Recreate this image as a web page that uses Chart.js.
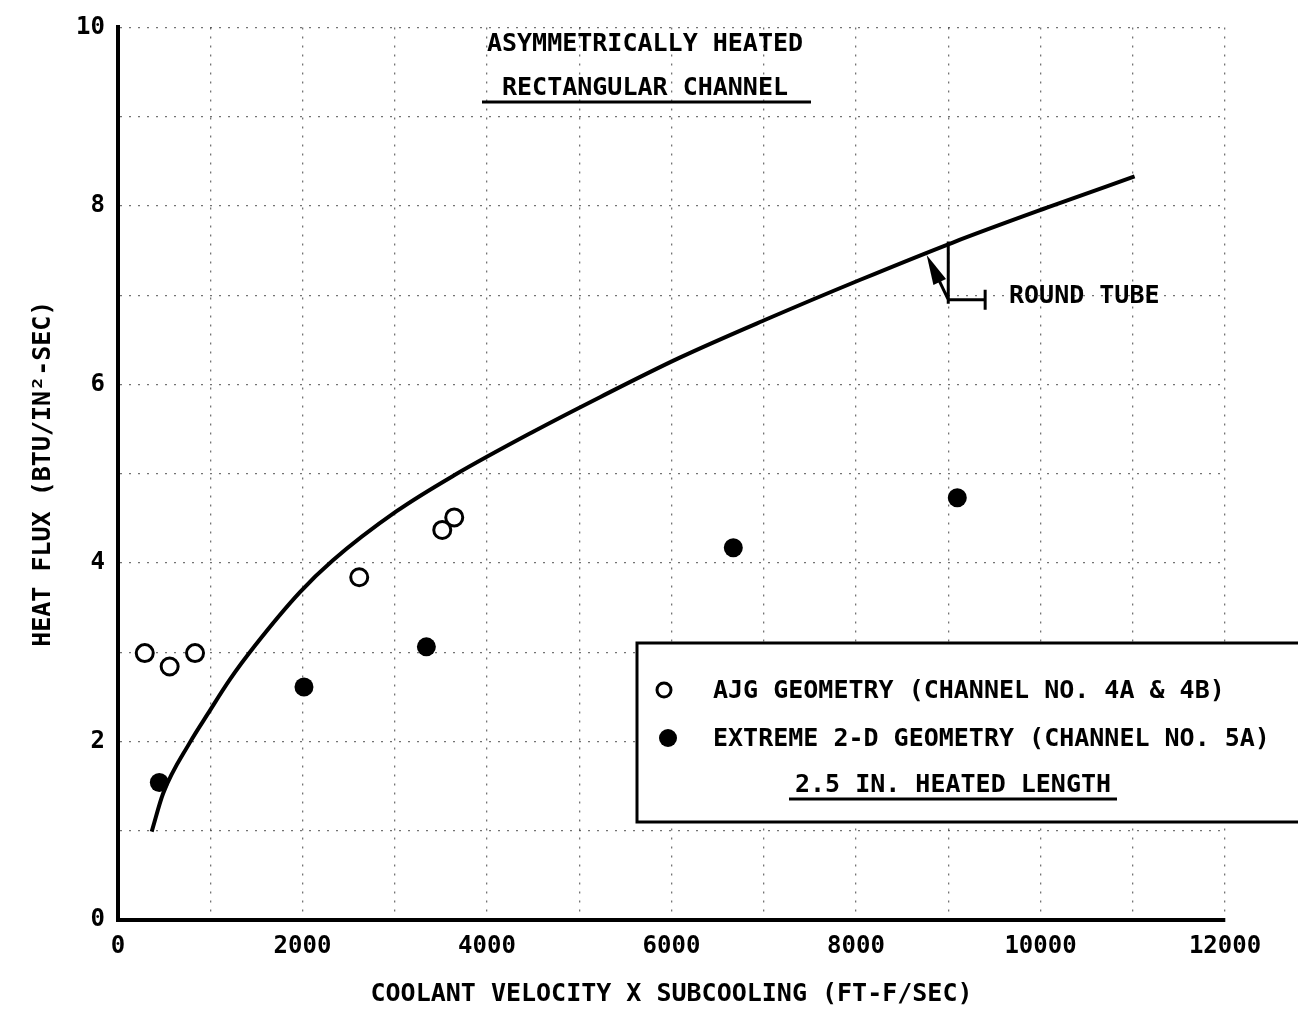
<!DOCTYPE html>
<html>
<head>
<meta charset="utf-8">
<script src="https://cdn.jsdelivr.net/npm/chart.js@4"></script>
<style>
  body { margin: 0; background: #fff; }
  #wrap { width: 1298px; height: 1011px; }
</style>
</head>
<body>
<div id="wrap"><canvas id="chart" width="1298" height="1011"></canvas></div>
<script>
// Round tube curve
const curveX = [365, 490, 780, 980, 1210, 1490, 1970, 2330, 3020, 3640, 4500, 5230, 6090, 7030, 8040, 9050, 10070, 11020];
const curveY = [0.99, 1.42, 1.99, 2.32, 2.69, 3.08, 3.67, 4.03, 4.58, 4.98, 5.47, 5.86, 6.30, 6.73, 7.17, 7.59, 7.98, 8.33];

// AJG geometry (open circles)
const ajgX = [290, 560, 835, 2615, 3515, 3645];
const ajgY = [2.99, 2.84, 2.99, 3.84, 4.37, 4.51];

// Extreme 2-D geometry (filled circles)
const extX = [448, 2016, 3343, 6670, 9098];
const extY = [1.54, 2.61, 3.06, 4.17, 4.73];

const xTicks = [0, 2000, 4000, 6000, 8000, 10000, 12000];
const yTicks = [0, 2, 4, 6, 8, 10];

const FONT = '"DejaVu Sans Mono", monospace';
const toPts = (xs, ys) => xs.map((x, i) => ({ x: x, y: ys[i] }));

// Text, legend box and the "round tube" pointer
const extrasPlugin = {
    id: 'extras',
    afterDatasetsDraw(chart) {
        const ctx = chart.ctx;
        const xs = chart.scales.x, ys = chart.scales.y;
        ctx.save();
        ctx.setLineDash([]);
        ctx.fillStyle = '#000';
        ctx.strokeStyle = '#000';
        ctx.font = 'bold 25px ' + FONT;
        ctx.textBaseline = 'middle';

        // heading
        ctx.textAlign = 'center';
        ctx.fillText('ASYMMETRICALLY HEATED', 645, 44);
        ctx.fillText('RECTANGULAR CHANNEL', 645, 88);
        ctx.lineWidth = 3;
        ctx.beginPath(); ctx.moveTo(482, 102); ctx.lineTo(811, 102); ctx.stroke();

        // legend box
        ctx.fillStyle = '#fff';
        ctx.fillRect(637, 643, 670, 179);
        ctx.lineWidth = 3;
        ctx.beginPath();
        ctx.moveTo(1300, 643); ctx.lineTo(637, 643); ctx.lineTo(637, 822); ctx.lineTo(1300, 822);
        ctx.stroke();
        ctx.fillStyle = '#000';
        ctx.lineWidth = 3;
        ctx.beginPath(); ctx.arc(664, 690, 7, 0, Math.PI * 2); ctx.stroke();
        ctx.beginPath(); ctx.arc(668, 738, 9, 0, Math.PI * 2); ctx.fill();
        ctx.textAlign = 'left';
        ctx.fillText('AJG GEOMETRY (CHANNEL NO. 4A & 4B)', 713, 691);
        ctx.fillText('EXTREME 2-D GEOMETRY (CHANNEL NO. 5A)', 713, 739);
        ctx.textAlign = 'center';
        ctx.fillText('2.5 IN. HEATED LENGTH', 953, 785);
        ctx.beginPath(); ctx.moveTo(789, 799); ctx.lineTo(1117, 799); ctx.stroke();

        // round tube pointer
        const tipX = xs.getPixelForValue(8766), tipY = ys.getPixelForValue(7.45);
        const baseX = xs.getPixelForValue(9000), baseY = ys.getPixelForValue(6.95);
        const endX = xs.getPixelForValue(9400);
        ctx.lineWidth = 3;
        ctx.beginPath();
        ctx.moveTo(baseX, ys.getPixelForValue(7.6)); ctx.lineTo(baseX, baseY + 4);
        ctx.moveTo(baseX, baseY); ctx.lineTo(endX, baseY);
        ctx.moveTo(endX, baseY - 10); ctx.lineTo(endX, baseY + 10);
        ctx.moveTo(baseX, baseY); ctx.lineTo(tipX + 6, tipY + 12);
        ctx.stroke();
        const ang = Math.atan2(tipY - baseY, tipX - baseX);
        ctx.beginPath();
        ctx.moveTo(tipX, tipY);
        ctx.lineTo(tipX - 30 * Math.cos(ang) + 7 * Math.sin(ang), tipY - 30 * Math.sin(ang) - 7 * Math.cos(ang));
        ctx.lineTo(tipX - 30 * Math.cos(ang) - 7 * Math.sin(ang), tipY - 30 * Math.sin(ang) + 7 * Math.cos(ang));
        ctx.closePath();
        ctx.fill();
        ctx.textAlign = 'left';
        ctx.fillText('ROUND TUBE', 1009, 296);
        ctx.restore();
    }
};

new Chart(document.getElementById('chart'), {
    type: 'scatter',
    data: {
        datasets: [
            {
                label: 'Round tube',
                data: toPts(curveX, curveY),
                showLine: true,
                borderColor: '#000',
                borderWidth: 4,
                pointRadius: 0,
                cubicInterpolationMode: 'monotone'
            },
            {
                label: 'AJG geometry (channel no. 4A & 4B)',
                data: toPts(ajgX, ajgY),
                pointRadius: 8.5,
                pointBorderWidth: 3,
                pointBorderColor: '#000',
                pointBackgroundColor: '#fff'
            },
            {
                label: 'Extreme 2-D geometry (channel no. 5A)',
                data: toPts(extX, extY),
                pointRadius: 9.5,
                pointBorderWidth: 0,
                pointBackgroundColor: '#000'
            }
        ]
    },
    options: {
        responsive: false,
        animation: false,
        clip: false,
        layout: { padding: { top: 12, right: 73, left: 0, bottom: 0 } },
        plugins: { legend: { display: false }, tooltip: { enabled: false } },
        scales: {
            x: {
                type: 'linear', min: 0, max: 12000,
                afterFit: s => { s.height = 91; },
                afterBuildTicks: s => { s.ticks = [...Array(13).keys()].map(i => ({ value: i * 1000 })); },
                border: { display: true, color: '#000', width: 4, dash: [2, 7] },
                grid: { color: 'rgba(0,0,0,0.55)', lineWidth: 1.3, drawTicks: false },
                ticks: {
                    padding: 12, color: '#000', maxRotation: 0,
                    font: { family: FONT, size: 24, weight: 'bold' },
                    callback: v => xTicks.includes(v) ? String(v) : ''
                },
                title: {
                    display: true, text: 'COOLANT VELOCITY X SUBCOOLING (FT-F/SEC)', color: '#000',
                    font: { family: FONT, size: 25, weight: 'bold' }, padding: { top: 0, bottom: 2 }
                }
            },
            y: {
                type: 'linear', min: 0, max: 10,
                afterFit: s => { s.width = 118; },
                afterBuildTicks: s => { s.ticks = [...Array(11).keys()].map(i => ({ value: i })); },
                border: { display: true, color: '#000', width: 4, dash: [2, 7] },
                grid: { color: 'rgba(0,0,0,0.55)', lineWidth: 1.3, drawTicks: false },
                ticks: {
                    padding: 13, color: '#000',
                    font: { family: FONT, size: 24, weight: 'bold' },
                    callback: v => yTicks.includes(v) ? String(v) : ''
                },
                title: {
                    display: true, text: 'HEAT FLUX (BTU/IN²-SEC)', color: '#000',
                    font: { family: FONT, size: 25, weight: 'bold' }, padding: { top: 28, bottom: 0 }
                }
            }
        }
    },
    plugins: [extrasPlugin]
});
</script>
</body>
</html>
